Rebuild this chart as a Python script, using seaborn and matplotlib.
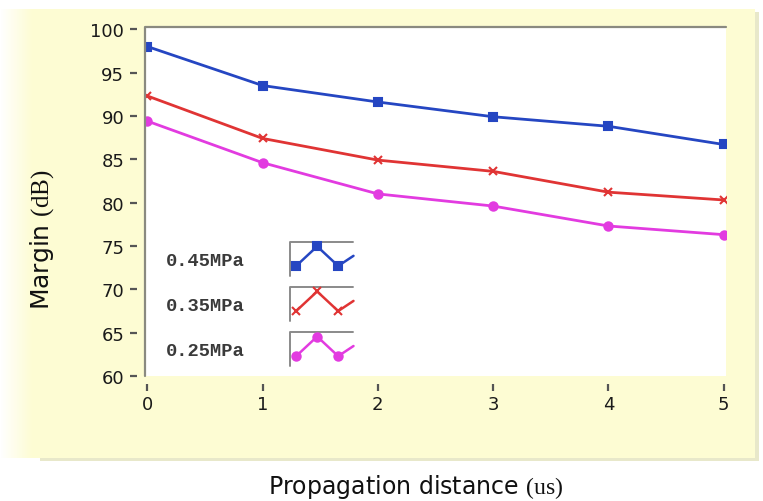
import numpy as np
import pandas as pd
import matplotlib
matplotlib.use("Agg")
import matplotlib.pyplot as plt
from matplotlib.lines import Line2D
from matplotlib.legend_handler import HandlerBase
import seaborn as sns

# Margin versus propagation distance for three pressures
distance = [0, 1, 2, 3, 4, 5]
margin_045 = [98.0, 93.5, 91.6, 89.9, 88.8, 86.7]
margin_035 = [92.3, 87.4, 84.9, 83.6, 81.2, 80.3]
margin_025 = [89.4, 84.6, 81.0, 79.6, 77.3, 76.3]
series_names = ["0.45MPa", "0.35MPa", "0.25MPa"]
y_ticks = [60, 65, 70, 75, 80, 85, 90, 95, 100]
x_ticks = [0, 1, 2, 3, 4, 5]

df = pd.DataFrame({
    "distance": distance * 3,
    "margin": margin_045 + margin_035 + margin_025,
    "pressure": [n for n in series_names for _ in distance],
})

colors = {"0.45MPa": "#2546c2", "0.35MPa": "#e03434", "0.25MPa": "#e23be0"}
markers = {"0.45MPa": "s", "0.35MPa": "x", "0.25MPa": "o"}

sns.set_theme(style="white")
plt.rcParams["font.family"] = ["DejaVu Sans"]
plt.rcParams["mathtext.fontset"] = "custom"
plt.rcParams["mathtext.rm"] = "Liberation Serif"

W, H = 763, 502
fig = plt.figure(figsize=(W / 100, H / 100), dpi=100, facecolor="white")

# pale yellow panel: fades in from the left edge, thin shadow on right/bottom
bg = np.ones((H, W, 3))
yellow = np.array([253, 252, 211]) / 255.0
shadow = np.array([232, 232, 202]) / 255.0
top, bottom, right = 10, 459, 755
ramp = np.clip(np.arange(W) / 32.0, 0, 1)[:, None]
row = (1 - ramp) * np.ones(3) + ramp * yellow
bg[top:bottom, :right] = row[:right]
bg[top + 3:bottom + 3, right:right + 4] = shadow
bg[bottom:bottom + 3, 40:right + 4] = shadow
bg_ax = fig.add_axes([0, 0, 1, 1], zorder=-10)
bg_ax.imshow(bg, aspect="auto", interpolation="nearest")
bg_ax.set_axis_off()

ax = fig.add_axes([145 / W, 1 - 377 / H, 581 / W, 349 / H])
ax.set_facecolor("white")

for name in series_names:
    sub = df[df["pressure"] == name]
    sns.lineplot(data=sub, x="distance", y="margin", color=colors[name],
                 marker=markers[name], ax=ax, linewidth=2.0, markersize=6,
                 markeredgewidth=1.5, markeredgecolor=colors[name], legend=False)

ax.set_xlim(-0.02, 5.02)
ax.set_ylim(60, 100.25)
ax.set_xticks(x_ticks)
ax.set_yticks(y_ticks)
ax.set_xticklabels([str(v) for v in x_ticks])
ax.set_yticklabels([str(v) for v in y_ticks])
ax.set_xlabel("")
ax.set_ylabel("")

# ticks sit a few pixels away from the plot frame
for side in ["left", "bottom"]:
    ax.spines[side].set_position(("outward", 6))
    ax.spines[side].set_visible(False)
for side in ["right", "top"]:
    ax.spines[side].set_visible(False)
ax.plot([0, 0, 1], [0, 1, 1], transform=ax.transAxes, color="#8a8a80",
        lw=1.6, clip_on=False, zorder=5)

ax.tick_params(axis="both", which="both", direction="out", length=5, width=1.6,
               color="#555555", labelsize=13, labelcolor="#1a1a1a",
               bottom=True, left=True)
ax.tick_params(axis="x", pad=3)
ax.tick_params(axis="y", pad=4)


class SampleHandler(HandlerBase):
    """Draws a small framed zigzag sample of a series line."""

    def create_artists(self, legend, orig_handle, xdescent, ydescent,
                       width, height, fontsize, trans):
        x0, y0 = -xdescent, -ydescent
        fx = np.array([0.1, 0.43, 0.76, 1.0])
        fy = np.array([0.3, 0.88, 0.3, 0.6])
        xs = x0 + fx * width
        ys = y0 + fy * height
        col = orig_handle.get_color()
        frame = Line2D([x0, x0, x0 + width], [y0, y0 + height, y0 + height],
                       color="#8a8a8a", lw=1.4)
        line = Line2D(xs, ys, color=col, lw=1.8)
        mk = Line2D(xs[:3], ys[:3], ls="none", marker=orig_handle.get_marker(),
                    ms=6, color=col, mec=col, mew=1.5)
        for a in (frame, line, mk):
            a.set_transform(trans)
        return [frame, line, mk]


proxies = [Line2D([], [], color=colors[n], marker=markers[n]) for n in series_names]
leg = ax.legend(proxies, series_names, loc="upper left",
                bbox_to_anchor=(0.02, 0.41), frameon=False, markerfirst=False,
                handler_map={Line2D: SampleHandler()},
                prop={"family": "Liberation Mono", "size": 13.5, "weight": "bold"},
                handlelength=3.4, handleheight=2.4, handletextpad=2.4,
                labelspacing=0.6, borderpad=0)
for t in leg.get_texts():
    t.set_color("#3a3a3a")

fig.text(416 / W, 1 - 487 / H, r"Propagation distance $\mathrm{(us)}$",
         ha="center", va="center", fontsize=17, color="#111111")
fig.text(42 / W, 1 - 240 / H, r"Margin $\mathrm{(dB)}$", rotation=90,
         ha="center", va="center", fontsize=18, color="#111111")

fig.savefig("out.png", dpi=100, facecolor="white")
